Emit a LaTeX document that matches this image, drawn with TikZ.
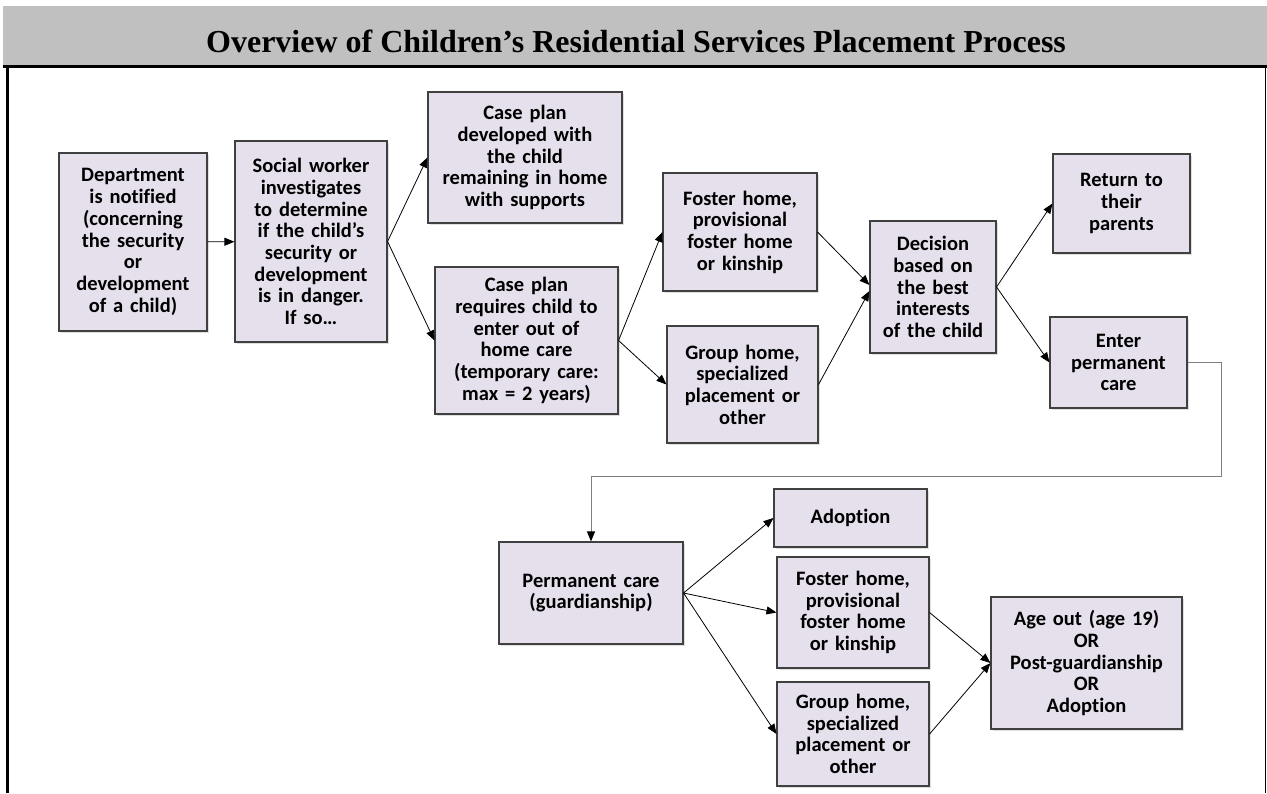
\documentclass[tikz,border=0pt]{standalone}
\usepackage{fontspec}
\setmainfont{Carlito}[Ligatures=NoCommon]
\newfontfamily\titlefont{Liberation Serif}
\usepackage{tikz}
\usetikzlibrary{arrows.meta,shadows}

\definecolor{boxfill}{HTML}{E5E0EC}
\definecolor{boxline}{HTML}{404040}
\definecolor{bandgray}{HTML}{C0C0C0}
\definecolor{elbowgray}{HTML}{7F7F7F}

\tikzset{
	stepbox/.style={draw=boxline, fill=boxfill, line width=1.1pt, align=center, inner sep=0pt,
		font=\bfseries\fontsize{20.5}{21.7}\selectfont,
		drop shadow={shadow xshift=1.5pt, shadow yshift=-1.5pt, opacity=0.25}},
	flow/.style={-{Triangle[length=10pt,width=8pt]}, line width=0.8pt, black},
}

\begin{document}
\begin{tikzpicture}[x=1pt, y=-1pt]
	\useasboundingbox (0,0) rectangle (1267,793);
	\fill[bandgray] (3,6) rectangle (1267,65);
	\node (title) at (636,41) {\titlefont\bfseries\fontsize{32}{36}\selectfont Overview of Children’s Residential Services Placement Process};
	\draw[line width=3pt] (3,66.5) -- (1267,66.5);
	\draw[line width=3pt] (7.5,65) -- (7.5,793);
	\draw[line width=1.2pt] (1265.5,66) -- (1265.5,793);
	\node (dept) at (133,242) [stepbox, text width=148pt, minimum height=178pt] {Department\\is notified\\(concerning\\the security\\or\\development\\of a child)};
	\node (social) at (311,241.5) [stepbox, text width=152pt, minimum height=201pt] {Social worker\\investigates\\to determine\\if the child’s\\security or\\development\\is in danger.\\If so…};
		\node (plan1) at (525,157.5) [stepbox, text width=194pt, minimum height=131pt] {Case plan\\developed with\\the child\\remaining in home\\with supports};
		\node (plan2) at (526.5,340.5) [stepbox, text width=183pt, minimum height=147pt] {Case plan\\requires child to\\enter out of\\home care\\(temporary care:\\max = 2 years)};
			\node (foster1) at (740,232) [stepbox, text width=154pt, minimum height=118pt] {Foster home,\\provisional\\foster home\\or kinship};
			\node (group1) at (742.5,384.5) [stepbox, text width=151pt, minimum height=117pt] {Group home,\\specialized\\placement or\\other};
				\node (decision) at (933,287) [stepbox, text width=126pt, minimum height=132pt] {Decision\\based on\\the best\\interests\\of the child};
					\node (return) at (1121.5,203.5) [stepbox, text width=137pt, minimum height=99pt] {Return to\\their\\parents};
					\node (enter) at (1118.5,362.5) [stepbox, text width=137pt, minimum height=91pt] {Enter\\permanent\\care};
	\node (perm) at (591,593) [stepbox, text width=184pt, minimum height=102pt] {Permanent care\\(guardianship)};
		\node (adopt) at (850.5,518) [stepbox, text width=153pt, minimum height=58pt] {Adoption};
		\node (foster2) at (853,612.5) [stepbox, text width=152pt, minimum height=111pt] {Foster home,\\provisional\\foster home\\or kinship};
		\node (group2) at (853,734) [stepbox, text width=152pt, minimum height=104pt] {Group home,\\specialized\\placement or\\other};
			\node (ageout) at (1086.5,663) [stepbox, text width=191pt, minimum height=132pt] {Age out (age 19)\\OR\\Post-guardianship\\OR\\Adoption};
	\coordinate (bend) at (1221,476);
	\draw[flow] (dept) to (social);
	\draw[flow] (social.east) to (plan1.west);
	\draw[flow] (social.east) to (plan2.west);
	\draw[flow] (plan2.east) to (foster1.west);
	\draw[flow] (plan2.east) to (group1.west);
	\draw[flow] (foster1.east) to ([yshift=2pt]decision.west);
	\draw[flow] (group1.east) to ([yshift=-4pt]decision.west);
	\draw[flow] (decision.east) to (return.west);
	\draw[flow] (decision.east) to (enter.west);
	\draw[flow, elbowgray, line width=1pt, -{Triangle[length=10pt,width=8pt,color=black]}] (enter.east) -| (bend) -| (perm.north);
	\draw[flow] (perm.east) to (adopt.west);
	\draw[flow] (perm.east) to (foster2.west);
	\draw[flow] (perm.east) to (group2.west);
	\draw[flow] (foster2.east) to (ageout.west);
	\draw[flow] (group2.east) to (ageout.west);
\end{tikzpicture}
\end{document}
